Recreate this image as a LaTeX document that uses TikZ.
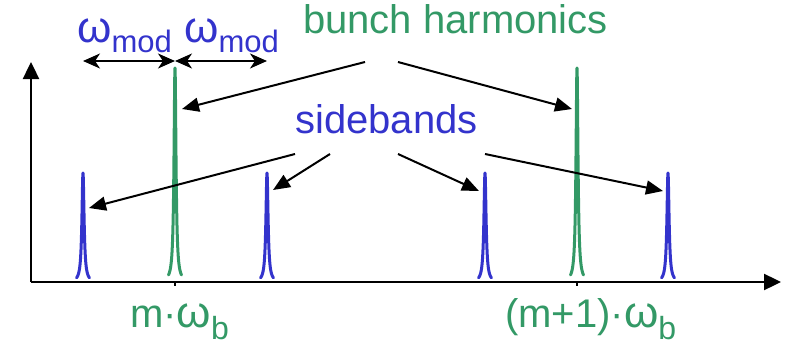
\documentclass[tikz,border=0pt]{standalone}
\usepackage{fontspec}
\setmainfont{Liberation Sans}
\usetikzlibrary{arrows.meta}
\definecolor{sbblue}{RGB}{51,51,204}
\definecolor{bhgreen}{RGB}{51,153,102}
% narrow Lorentzian-like line: centre, height, half width, colour
\newcommand\drawpeak[4]{%
  \draw[#4, line width=3pt, line cap=round, line join=round]
    plot[domain=-6.5:6.5, samples=131, smooth] ({#1+\x},{282-#2/(1+(\x/#3)^2)});}
\newcommand\bigfont{\fontsize{40}{48}\selectfont}
\newcommand\subfont{\fontsize{31}{36}\selectfont}
\newcommand\omg{{\fontsize{44}{48}\selectfont ω}}
\begin{document}
\begin{tikzpicture}[x=1pt, y=-1pt,
  lbl/.style={inner sep=0pt, anchor=base west, font=\bigfont},
  pointer/.style={line width=2pt, -{Triangle[length=17pt, width=14pt]}},
  spacing/.style={line width=2pt, {Stealth[length=17pt, width=15pt, inset=5pt]}-{Stealth[length=17pt, width=15pt, inset=5pt]}},
  axis/.style={line width=2.4pt, -{Triangle[length=17pt, width=16pt]}}]
\useasboundingbox (0,0) rectangle (785,348);

% axes
\coordinate (origin) at (31,282);
\coordinate (yend) at (31,62);
\coordinate (xend) at (781,282);
\draw[axis] (origin) -- (yend);
\draw[axis] (origin) -- (xend);

% harmonic positions on the frequency axis
\coordinate (h0) at (175,282);
\coordinate (h1) at (577,282);
\draw[line width=1.5pt] (h0) -- ++(0,4);
\draw[line width=1.5pt] (h1) -- ++(0,4);

% spectral lines
\drawpeak{83}{109}{1.3}{sbblue}
\drawpeak{267}{109}{1.3}{sbblue}
\drawpeak{485}{109}{1.3}{sbblue}
\drawpeak{668}{109}{1.3}{sbblue}
\drawpeak{175}{214}{1.2}{bhgreen}
\drawpeak{577}{214}{1.2}{bhgreen}

% labels
\node[lbl, text=bhgreen] (bh) at (303,34) {bunch harmonics};
\node[lbl, text=sbblue] (sb) at (295,133) {sidebands};
\node[lbl, text=sbblue] (wm1) at (77,42) {\omg\raisebox{-10pt}{\subfont mod}};
\node[lbl, text=sbblue] (wm2) at (184,42) {\omg\raisebox{-10pt}{\subfont mod}};
\node[lbl, text=bhgreen] (m0) at (130,327) {m·\omg\raisebox{-12pt}{\fontsize{32}{36}\selectfont b}};
\node[lbl, text=bhgreen] (m1) at (505,327) {(m+1)·\omg\raisebox{-12pt}{\fontsize{32}{36}\selectfont b}};

% modulation spacing
\coordinate (dl) at (83,61);
\coordinate (dm) at (175,61);
\coordinate (dr) at (267,61);
\draw[spacing] (dl) -- (dm);
\draw[spacing] (dm) -- (dr);

% pointers from the labels
\coordinate (bhA) at (365,62);
\coordinate (bhB) at (398,62);
\coordinate (tipH0) at (182,109);
\coordinate (tipH1) at (572,109);
\draw[pointer] (bhA) -- (tipH0);
\draw[pointer] (bhB) -- (tipH1);

\coordinate (sbA) at (295,154);
\coordinate (sbB) at (330,154);
\coordinate (sbC) at (398,154);
\coordinate (sbD) at (485,154);
\coordinate (tipS1) at (89,208);
\coordinate (tipS2) at (273,190);
\coordinate (tipS3) at (479,191);
\coordinate (tipS4) at (663,191);
\draw[pointer] (sbA) -- (tipS1);
\draw[pointer] (sbB) -- (tipS2);
\draw[pointer] (sbC) -- (tipS3);
\draw[pointer] (sbD) -- (tipS4);
\end{tikzpicture}
\end{document}
